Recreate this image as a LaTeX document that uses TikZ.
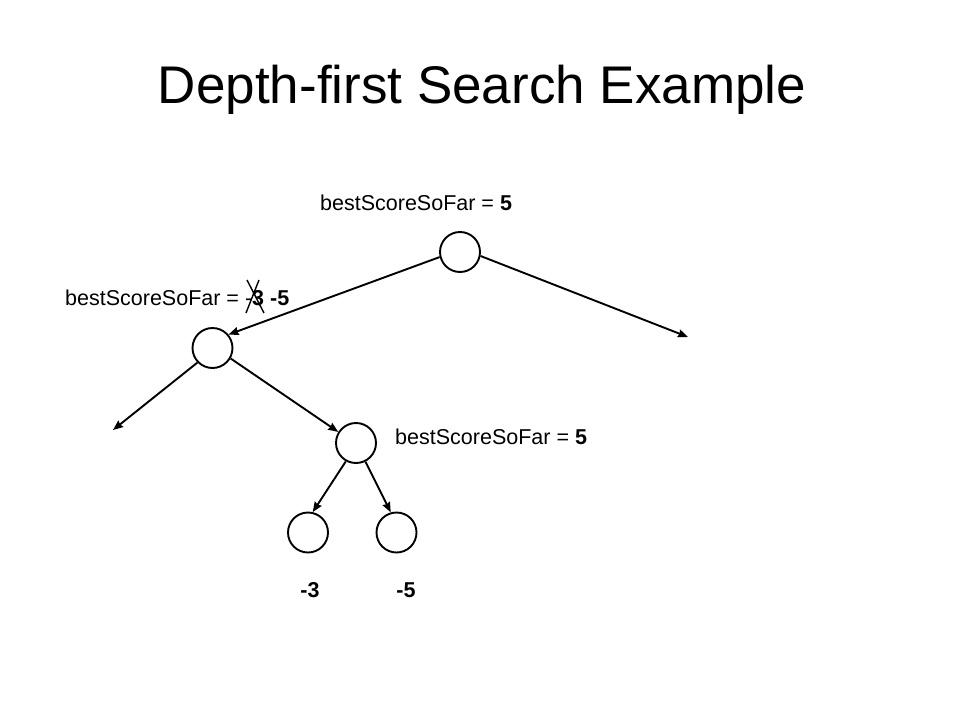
\documentclass[tikz,border=0pt]{standalone}
\usepackage{fontspec}
\setmainfont{Liberation Sans}
\usetikzlibrary{arrows.meta}
\begin{document}
\begin{tikzpicture}[x=1pt,y=-1pt,
  state/.style={circle,draw,line width=1.9pt,minimum size=40pt,inner sep=0pt},
  edge/.style={line width=1.9pt,-{Stealth[length=10pt,width=8pt,inset=1pt]}},
  lbl/.style={anchor=west,inner sep=0pt,font=\fontsize{21.5}{24}\selectfont},
  val/.style={inner sep=0pt,font=\fontsize{21.5}{24}\selectfont\bfseries}]
\useasboundingbox (0,0) rectangle (960,720);
\node[inner sep=0pt,font=\fontsize{53}{60}\selectfont] (title) at (482,90) {Depth-first Search Example};
\node[state] (root) at (460,252) {};
\node[state] (lc) at (212.5,348) {};
\node[state] (n3) at (356,443) {};
\node[state] (l1) at (308,532.5) {};
\node[state] (l2) at (396.5,532.5) {};
\coordinate (rfree) at (688,337);
\coordinate (lfree) at (113,430);
\draw[edge] (root.194) -- (lc.40);
\draw[edge] (root.349) -- (rfree);
\draw[edge] (lc.224) -- (lfree);
\draw[edge] (lc.330) -- (n3.148);
\draw[edge] (n3.241) -- (l1.77);
\draw[edge] (n3.297) -- (l2.106);
\node[lbl] (t1) at (320,203) {bestScoreSoFar = \textbf{5}};
\node[lbl] (t2) at (65,298) {bestScoreSoFar = -\textbf{3 -5}};
\node[lbl] (t3) at (395,437) {bestScoreSoFar = \textbf{5}};
\node[val] (v1) at (310,590.5) {-3};
\node[val] (v2) at (406,590.5) {-5};
\draw[line width=1.4pt] (247,280) -- (264,313) (259,280) -- (246,313);
\end{tikzpicture}
\end{document}
